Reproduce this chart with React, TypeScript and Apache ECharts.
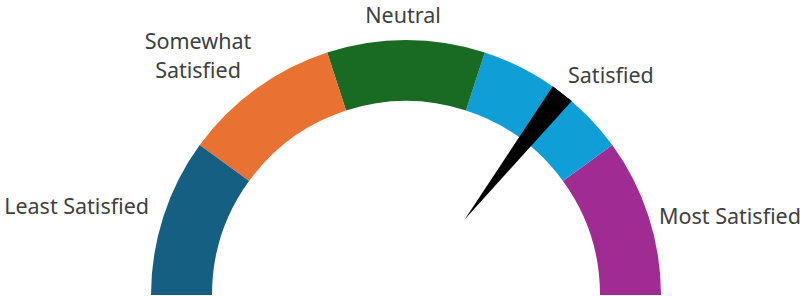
import React, { useEffect, useRef } from "react";
import * as echarts from "echarts";

// ---- data ----
const CATEGORIES = ["Least Satisfied", "Somewhat\nSatisfied", "Neutral", "Satisfied", "Most Satisfied"];
const BAND_ENDS = [20, 40, 60, 80, 100]; // cumulative upper bound of each band
const NEEDLE_VALUE = [71];
const GAUGE_MIN = 0;
const GAUGE_MAX = 100;

// ---- styles / layout ----
const BAND_COLORS = ["#156082", "#E97132", "#196B24", "#0F9ED5", "#A02B93"];
const LABEL_LAYOUT = [
  { x: 149, y: 205, align: "right" },
  { x: 198, y: 55, align: "center" },
  { x: 403, y: 14, align: "center" },
  { x: 568, y: 74, align: "left" },
  { x: 659, y: 215, align: "left" },
];
const LINE_GAP = 29.5;
const FONT = "'Noto Sans', 'Open Sans', sans-serif";
const CX = 406;
const CY = 295;
const R = 255;
const RING = 61;

export default function App() {
  const ref = useRef<HTMLDivElement>(null);
  useEffect(() => {
    document.body.style.margin = "0";
    const chart = echarts.init(ref.current!, null, { renderer: "svg" });
    const stops = BAND_ENDS.map((v, i) => [(v - GAUGE_MIN) / (GAUGE_MAX - GAUGE_MIN), BAND_COLORS[i]]);
    const inner = BAND_ENDS.slice(0, -1);
    const gapMin = inner[0];
    const gapMax = inner[inner.length - 1];
    const angleOf = (v: number) => 180 - ((v - GAUGE_MIN) / (GAUGE_MAX - GAUGE_MIN)) * 180;

    const labels: any[] = [];
    CATEGORIES.forEach((c, i) => {
      const lines = c.split("\n");
      const lay = LABEL_LAYOUT[i];
      lines.forEach((ln, k) => {
        labels.push({
          type: "text",
          x: lay.x,
          y: lay.y + (k - (lines.length - 1) / 2) * LINE_GAP,
          style: {
            text: ln,
            fill: "#404040",
            font: `21.5px ${FONT}`,
            align: lay.align,
            verticalAlign: "middle",
          },
        });
      });
    });

    chart.setOption({
      animation: false,
      backgroundColor: "#ffffff",
      series: [
        {
          type: "gauge",
          center: [CX, CY],
          radius: R,
          startAngle: 180,
          endAngle: 0,
          min: GAUGE_MIN,
          max: GAUGE_MAX,
          splitNumber: BAND_ENDS.length,
          axisLine: { lineStyle: { width: RING, color: stops } },
          splitLine: { show: false },
          axisTick: { show: false },
          axisLabel: { show: false },
          pointer: {
            show: true,
            icon: "path://M0,0 L24,0 L12,160 Z",
            width: 24,
            length: 159,
            offsetCenter: [0, -96],
            itemStyle: { color: "#000000" },
          },
          anchor: { show: false },
          title: { show: false },
          detail: { show: false },
          data: NEEDLE_VALUE.map((v) => ({ value: v })),
          z: 2,
        },
        {
          type: "gauge",
          center: [CX, CY],
          radius: R,
          startAngle: angleOf(gapMin),
          endAngle: angleOf(gapMax),
          min: gapMin,
          max: gapMax,
          splitNumber: inner.length - 1,
          axisLine: { show: false, lineStyle: { width: RING } },
          splitLine: {
            show: true,
            distance: -RING - 3,
            length: RING + 6,
            lineStyle: { color: "#ffffff", width: 4 },
          },
          axisTick: { show: false },
          axisLabel: { show: false },
          pointer: { show: false },
          anchor: { show: false },
          title: { show: false },
          detail: { show: false },
          data: [],
          z: 1,
        },
      ],
      graphic: labels,
    });
    return () => chart.dispose();
  }, []);
  return <div ref={ref} style={{ width: 802, height: 296 }} />;
}
